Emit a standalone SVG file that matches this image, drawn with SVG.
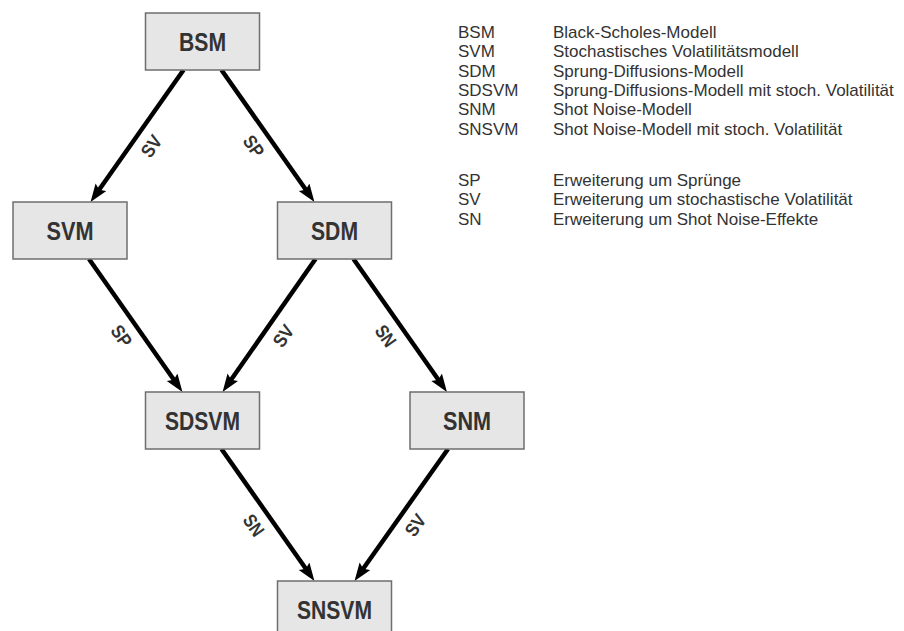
<svg xmlns="http://www.w3.org/2000/svg" width="904" height="631" viewBox="0 0 904 631">
<style>
.box{fill:#e6e6e6;stroke:#6e6e6e;stroke-width:1.5}
.nl{font-family:"Liberation Sans Narrow","Liberation Sans",Arial,sans-serif;font-weight:bold;font-size:25px;fill:#333;text-anchor:middle}
.el{font-family:"Liberation Sans Narrow","Liberation Sans",Arial,sans-serif;font-weight:bold;font-size:19px;fill:#333;text-anchor:middle}
.edge{stroke:#000;stroke-width:4.5;fill:none;marker-end:url(#ah)}
.lg{font-family:"Liberation Sans",Arial,sans-serif;font-size:17px;fill:#333}
</style>
<defs>
<marker id="ah" markerUnits="userSpaceOnUse" markerWidth="20" markerHeight="14" refX="8" refY="6.5" orient="auto">
<path d="M0,0 L18,6.5 L0,13 L3,6.5 z" fill="#000"/>
</marker>
</defs>
<rect width="904" height="631" fill="#fff"/>
<g id="connectors">
<line class="edge" x1="183.5" y1="70" x2="96.3" y2="193.8"/>
<line class="edge" x1="221.5" y1="70" x2="308.7" y2="193.8"/>
<line class="edge" x1="89" y1="259" x2="176.7" y2="383.8"/>
<line class="edge" x1="315.5" y1="259" x2="228.3" y2="383.8"/>
<line class="edge" x1="353.5" y1="259" x2="441.2" y2="383.8"/>
<line class="edge" x1="221.5" y1="449" x2="308.7" y2="572.8"/>
<line class="edge" x1="448" y1="449" x2="360.3" y2="572.8"/>
<text class="el" transform="translate(151,146) rotate(-55)" dy="7" textLength="22" lengthAdjust="spacingAndGlyphs">SV</text>
<text class="el" transform="translate(254,146) rotate(55)" dy="7" textLength="22" lengthAdjust="spacingAndGlyphs">SP</text>
<text class="el" transform="translate(121.7,335.7) rotate(55)" dy="7" textLength="22" lengthAdjust="spacingAndGlyphs">SP</text>
<text class="el" transform="translate(283,335.7) rotate(-55)" dy="7" textLength="22" lengthAdjust="spacingAndGlyphs">SV</text>
<text class="el" transform="translate(386,335.7) rotate(55)" dy="7" textLength="22" lengthAdjust="spacingAndGlyphs">SN</text>
<text class="el" transform="translate(254,525) rotate(55)" dy="7" textLength="22" lengthAdjust="spacingAndGlyphs">SN</text>
<text class="el" transform="translate(415,525) rotate(-55)" dy="7" textLength="22" lengthAdjust="spacingAndGlyphs">SV</text>
</g>
<g id="BSM"><rect class="box" x="145.5" y="13" width="114" height="57"/><text class="nl" x="202.5" y="50.5" textLength="47" lengthAdjust="spacingAndGlyphs">BSM</text></g>
<g id="SVM"><rect class="box" x="13" y="202" width="114" height="57"/><text class="nl" x="70" y="239.5" textLength="47" lengthAdjust="spacingAndGlyphs">SVM</text></g>
<g id="SDM"><rect class="box" x="277.5" y="202" width="114" height="57"/><text class="nl" x="334.5" y="239.5" textLength="47" lengthAdjust="spacingAndGlyphs">SDM</text></g>
<g id="SDSVM"><rect class="box" x="145.5" y="392" width="114" height="57"/><text class="nl" x="202.5" y="429.5" textLength="75" lengthAdjust="spacingAndGlyphs">SDSVM</text></g>
<g id="SNM"><rect class="box" x="410" y="392" width="114" height="57"/><text class="nl" x="467" y="429.5" textLength="48" lengthAdjust="spacingAndGlyphs">SNM</text></g>
<g id="SNSVM"><rect class="box" x="277.5" y="581" width="114" height="57"/><text class="nl" x="334.5" y="618.5" textLength="75" lengthAdjust="spacingAndGlyphs">SNSVM</text></g>
<g id="legend">
<text class="lg" x="458" y="38">BSM</text><text class="lg" x="553" y="38">Black-Scholes-Modell</text>
<text class="lg" x="458" y="57.3">SVM</text><text class="lg" x="553" y="57.3">Stochastisches Volatilitätsmodell</text>
<text class="lg" x="458" y="76.6">SDM</text><text class="lg" x="553" y="76.6">Sprung-Diffusions-Modell</text>
<text class="lg" x="458" y="95.9">SDSVM</text><text class="lg" x="553" y="95.9">Sprung-Diffusions-Modell mit stoch. Volatilität</text>
<text class="lg" x="458" y="115.2">SNM</text><text class="lg" x="553" y="115.2">Shot Noise-Modell</text>
<text class="lg" x="458" y="134.5">SNSVM</text><text class="lg" x="553" y="134.5">Shot Noise-Modell mit stoch. Volatilität</text>
<text class="lg" x="458" y="186">SP</text><text class="lg" x="553" y="186">Erweiterung um Sprünge</text>
<text class="lg" x="458" y="205.3">SV</text><text class="lg" x="553" y="205.3">Erweiterung um stochastische Volatilität</text>
<text class="lg" x="458" y="224.6">SN</text><text class="lg" x="553" y="224.6">Erweiterung um Shot Noise-Effekte</text>
</g>
</svg>
